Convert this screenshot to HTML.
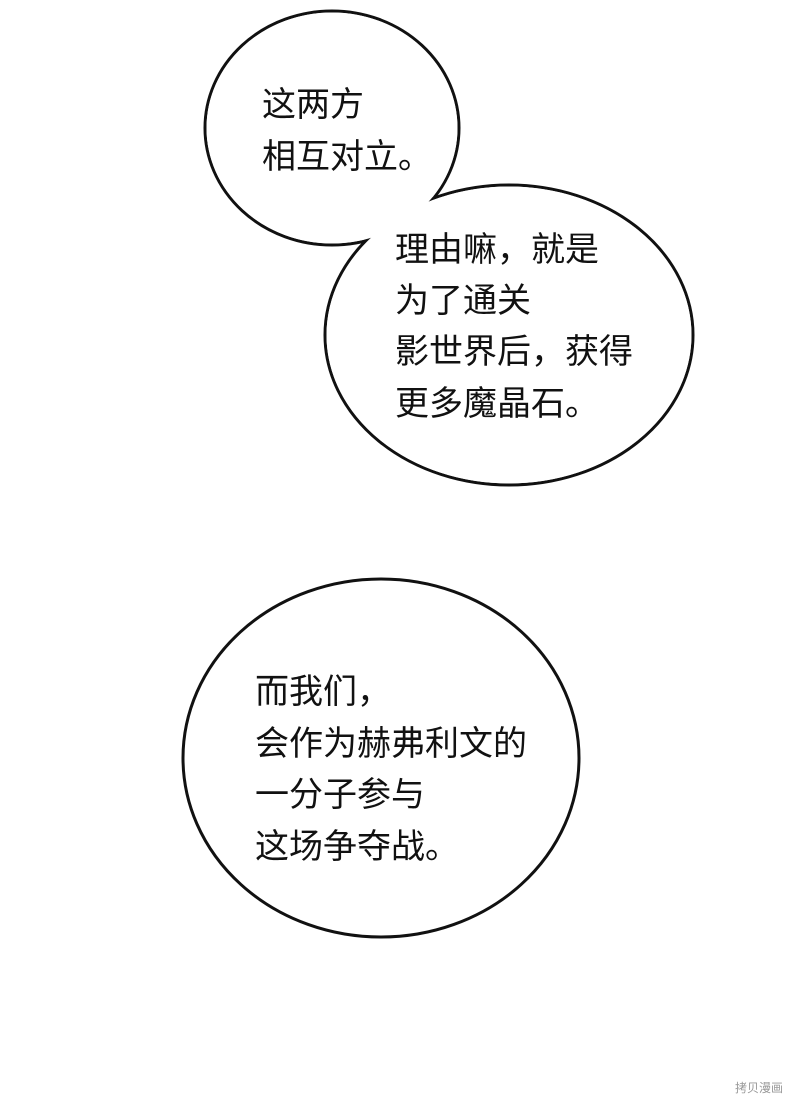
<!DOCTYPE html>
<html><head><meta charset="utf-8"><style>
html,body{margin:0;padding:0;background:#fff;}
svg{display:block;}
text{font-family:"Liberation Sans","Noto Sans CJK SC",sans-serif;font-size:34px;fill:#111;}
</style></head><body>
<svg width="800" height="1105" viewBox="0 0 800 1105">
<rect width="800" height="1105" fill="#fff"/>
<g stroke="#111" stroke-width="3" fill="#fff">
<ellipse cx="332" cy="128" rx="127" ry="117"/>
<ellipse cx="509" cy="335" rx="184" ry="150"/>
</g>
<g fill="#fff">
<ellipse cx="332" cy="128" rx="125.5" ry="115.5"/>
<ellipse cx="509" cy="335" rx="182.5" ry="148.5"/>
</g>
<ellipse cx="381" cy="758" rx="198" ry="179" stroke="#111" stroke-width="3" fill="#fff"/>
<text x="262" y="116">这两方</text>
<text x="262" y="168">相互对立。</text>
<text x="395" y="261">理由嘛，就是</text>
<text x="395" y="312">为了通关</text>
<text x="395" y="363">影世界后，获得</text>
<text x="395" y="415">更多魔晶石。</text>
<text x="255" y="703">而我们，</text>
<text x="255" y="755">会作为赫弗利文的</text>
<text x="255" y="806">一分子参与</text>
<text x="255" y="858">这场争夺战。</text>
<text x="735" y="1092" style="font-size:12px;fill:#999">拷贝漫画</text>
</svg>
</body></html>
